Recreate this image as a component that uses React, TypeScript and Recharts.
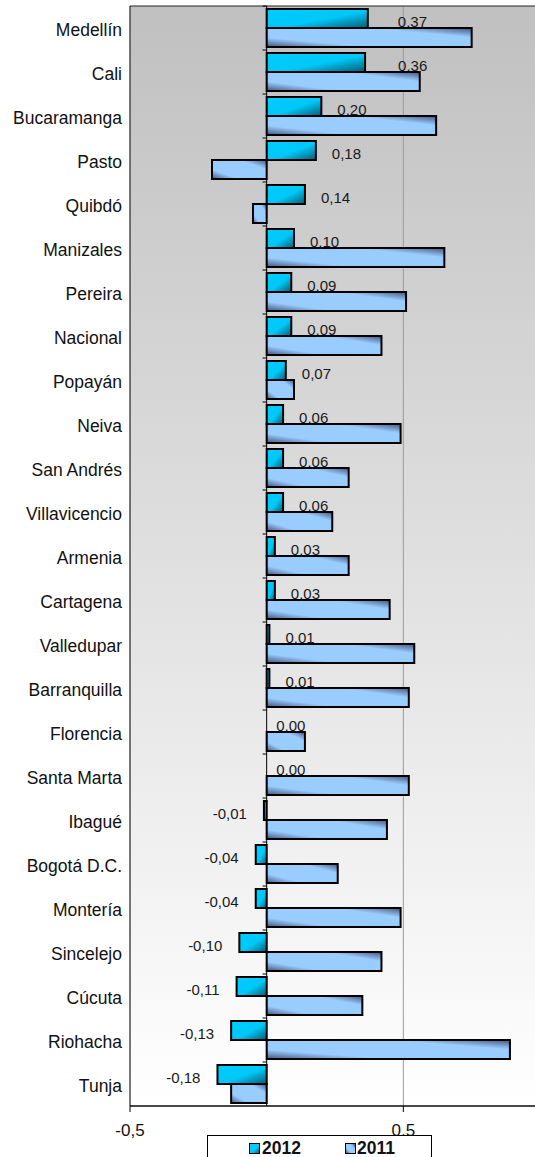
import React from 'react';
import {
  BarChart, Bar, XAxis, YAxis, CartesianGrid, ReferenceLine, ReferenceArea, LabelList,
} from 'recharts';

const categories = [
  'Medellín', 'Cali', 'Bucaramanga', 'Pasto', 'Quibdó', 'Manizales', 'Pereira', 'Nacional',
  'Popayán', 'Neiva', 'San Andrés', 'Villavicencio', 'Armenia', 'Cartagena', 'Valledupar',
  'Barranquilla', 'Florencia', 'Santa Marta', 'Ibagué', 'Bogotá D.C.', 'Montería', 'Sincelejo',
  'Cúcuta', 'Riohacha', 'Tunja',
];
const values2012 = [
  0.37, 0.36, 0.20, 0.18, 0.14, 0.10, 0.09, 0.09, 0.07, 0.06, 0.06, 0.06, 0.03, 0.03, 0.01,
  0.01, 0.00, 0.00, -0.01, -0.04, -0.04, -0.10, -0.11, -0.13, -0.18,
];
const values2011 = [
  0.75, 0.56, 0.62, -0.20, -0.05, 0.65, 0.51, 0.42, 0.10, 0.49, 0.30, 0.24, 0.30, 0.45, 0.54,
  0.52, 0.14, 0.52, 0.44, 0.26, 0.49, 0.42, 0.35, 0.89, -0.13,
];
const xTicks = [-0.5, 0.5];
const seriesNames = ['2012', '2011'];

// manual label nudges (pixels) seen in the original chart
const labelNudge: Record<number, number> = { 0: 14, 1: 17 };

const data = categories.map((c, i) => ({ name: c, v2012: values2012[i], v2011: values2011[i] }));

const FONT = '"Liberation Sans", Arial, sans-serif';
const fmt = (v: number) => v.toFixed(2).replace('.', ',');

const CatTick = (props: any) => {
  const { x, y, payload } = props;
  return (
    <text x={x} y={y} dy={7.7} textAnchor="end" fontSize={17.5} fontFamily={FONT} fill="#111">
      {payload.value}
    </text>
  );
};

const XTick = (props: any) => {
  const { x, y, payload } = props;
  return (
    <text x={x} y={y} dy={22} textAnchor="middle" fontSize={17} fontFamily={FONT} fill="#111">
      {String(payload.value).replace('.', ',')}
    </text>
  );
};

const ValueLabel = (props: any) => {
  const { x, y, width, height, value, index } = props;
  if (value === 0) return null;
  const end = x + width;
  const neg = value < 0;
  const nudge = labelNudge[index] || 0;
  return (
    <text
      x={neg ? end - 17 : end + 16 + nudge}
      y={y + height / 2 + 2.5}
      dominantBaseline="central"
      textAnchor={neg ? 'end' : 'start'}
      fontSize={15}
      fontFamily={FONT}
      fill="#1a1a1a"
    >
      {fmt(value)}
    </text>
  );
};

// labels for zero-valued 2012 bars, placed from the neighbouring 2011 bar's base
const ZeroLabel = (props: any) => {
  const { x, y, height, index } = props;
  if (values2012[index] !== 0) return null;
  return (
    <text
      x={x + 9.5}
      y={y - height / 2 + 2.5}
      dominantBaseline="central"
      textAnchor="start"
      fontSize={15}
      fontFamily={FONT}
      fill="#1a1a1a"
    >
      {fmt(values2012[index])}
    </text>
  );
};

export default function App() {
  return (
    <div style={{ position: 'absolute', left: 0, top: 0, width: 535, height: 1157, overflow: 'hidden', background: '#fff' }}>
      <BarChart
        width={540}
        height={1157}
        data={data}
        layout="vertical"
        margin={{ top: 6, right: 0, bottom: 0, left: 0 }}
        barCategoryGap={3}
        barGap={0}
      >
        <defs>
          <linearGradient id="bgGrad" x1="0" y1="0" x2="0" y2="1">
            <stop offset="0" stopColor="#c0c0c0" />
            <stop offset="1" stopColor="#ffffff" />
          </linearGradient>
          <linearGradient id="g2012" x1="0" y1="0" x2="1" y2="1">
            <stop offset="0" stopColor="#00ccff" />
            <stop offset="0.55" stopColor="#00c8f8" />
            <stop offset="1" stopColor="#075a72" />
          </linearGradient>
          <linearGradient id="g2011" x1="0" y1="1" x2="1" y2="0">
            <stop offset="0" stopColor="#43547a" />
            <stop offset="0.25" stopColor="#99ccff" />
            <stop offset="0.75" stopColor="#99ccff" />
            <stop offset="1" stopColor="#43547a" />
          </linearGradient>
        </defs>
        <CartesianGrid horizontal={false} stroke="#9a9a9a" fill="url(#bgGrad)" />
        <XAxis
          type="number"
          domain={[-0.5, 1]}
          ticks={xTicks}
          allowDataOverflow
          height={51}
          tickSize={6}
          axisLine={{ stroke: '#000' }}
          tickLine={{ stroke: '#000' }}
          tick={<XTick />}
          interval={0}
        />
        <YAxis
          type="category"
          dataKey="name"
          width={130}
          axisLine={false}
          tickLine={false}
          tick={<CatTick />}
          interval={0}
        />
        <ReferenceArea x1={-0.5} x2={1} fill="none" stroke="#222" strokeWidth={1} ifOverflow="visible" />
        <ReferenceLine x={0} stroke="#000" strokeWidth={1} />
        {categories.map((c) => (
          <ReferenceLine
            key={c}
            segment={[{ x: -0.015, y: c }, { x: 0, y: c }]}
            position="start"
            stroke="#000"
            strokeWidth={1}
            ifOverflow="visible"
          />
        ))}
        <Bar dataKey="v2012" name={seriesNames[0]} fill="url(#g2012)" stroke="#000" strokeWidth={2} isAnimationActive={false}>
          <LabelList dataKey="v2012" content={<ValueLabel />} />
        </Bar>
        <Bar dataKey="v2011" name={seriesNames[1]} fill="url(#g2011)" stroke="#000" strokeWidth={2} isAnimationActive={false}>
          <LabelList dataKey="v2011" content={<ZeroLabel />} />
        </Bar>
      </BarChart>
      <div
        style={{
          position: 'absolute', left: 207, top: 1135, width: 225, height: 40,
          border: '1px solid #000', background: '#fff', boxSizing: 'border-box',
        }}
      >
        <div style={{ position: 'absolute', left: 41, top: 7, width: 9, height: 9, border: '1.5px solid #000',
          background: 'linear-gradient(135deg, #00ccff 0%, #00ccff 55%, #075a72 100%)' }} />
        <div style={{ position: 'absolute', left: 54, top: 2, fontFamily: FONT, fontWeight: 'bold', fontSize: 17.5, lineHeight: '20px', color: '#111' }}>{seriesNames[0]}</div>
        <div style={{ position: 'absolute', left: 137, top: 7, width: 9, height: 9, border: '1.5px solid #000',
          background: 'linear-gradient(45deg, #43547a 0%, #99ccff 30%, #99ccff 70%, #43547a 100%)' }} />
        <div style={{ position: 'absolute', left: 149, top: 2, fontFamily: FONT, fontWeight: 'bold', fontSize: 17.5, lineHeight: '20px', color: '#111' }}>{seriesNames[1]}</div>
      </div>
    </div>
  );
}
